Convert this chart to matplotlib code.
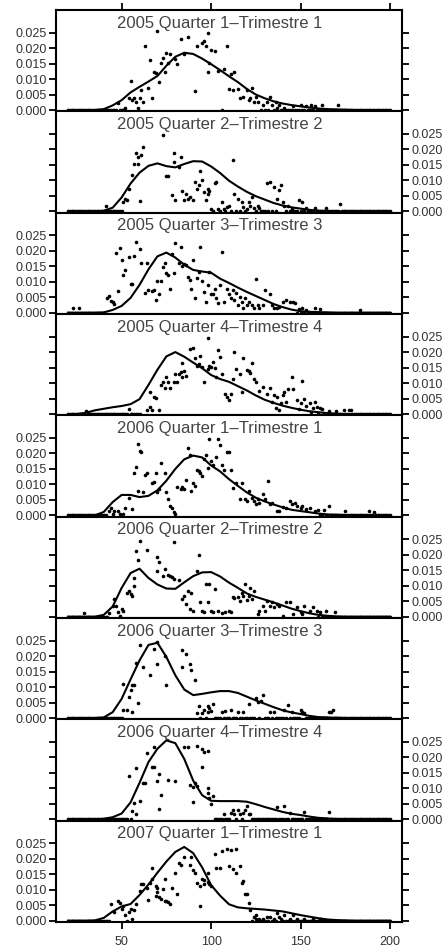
import numpy as np
import matplotlib.pyplot as plt
from matplotlib.ticker import FormatStrFormatter

plt.rcParams['font.family'] = ['Liberation Sans', 'DejaVu Sans']

titles = [
    "2005 Quarter 1\u2013Trimestre 1",
    "2005 Quarter 2\u2013Trimestre 2",
    "2005 Quarter 3\u2013Trimestre 3",
    "2005 Quarter 4\u2013Trimestre 4",
    "2006 Quarter 1\u2013Trimestre 1",
    "2006 Quarter 2\u2013Trimestre 2",
    "2006 Quarter 3\u2013Trimestre 3",
    "2006 Quarter 4\u2013Trimestre 4",
    "2007 Quarter 1\u2013Trimestre 1",
]

ages = np.arange(20, 201)          # one bin per unit
grid = np.arange(20, 201, 5)       # density curve evaluation points

# observed (non-empty) bins per quarter
age_05q1 = [48, 52, 54, 55, 56, 57, 58, 59, 60, 61, 62, 63, 65, 66, 67, 68, 69, 70, 71, 72, 73, 74, 75, 76, 77,
            80, 81, 83, 85, 87, 91, 92, 95, 96, 97, 98, 99, 100, 98, 102, 104, 107, 109, 110, 111, 112, 113,
            115, 116, 118, 120, 121, 122, 123, 124, 125, 126, 129, 131, 133, 134, 136, 137, 138, 141, 146,
            150, 153, 156, 158, 162, 171]
freq_05q1 = [.0024, .0008, .0038, .0093, .0033, .0038, .0027, .0008, .0038, .0064, .0027, .0208, .0071, .0162,
             .0038, .0124, .0119, .0256, .009, .0153, .0168, .0124, .0185, .0153, .018, .0166, .0148, .0229,
             .018, .0235, .0061, .0208, .0218, .0222, .0208, .025, .0153, .0195, .0122, .019, .0127, .0132,
             .0206, .0067, .0117, .0064, .0124, .0067, .0038, .0043, .0064, .0033, .0038, .0071, .0027, .0043,
             .0027, .0017, .0027, .0043, .0017, .0027, .0006, .0017, .0006, .0012, .0017, .0012, .0017, .0012,
             .0015, .0017]

age_05q2 = [41, 51, 52, 53, 54, 56, 57, 58, 59, 59, 60, 61, 62, 73, 75, 76, 78, 79, 79, 80, 82, 83, 84, 85, 86,
            87, 88, 90, 91, 92, 93, 94, 95, 96, 97, 98, 98, 99, 100, 102, 103, 104, 106, 107, 109, 110, 112,
            113, 115, 117, 118, 120, 121, 122, 123, 124, 126, 127, 131, 133, 135, 137, 138, 139, 140, 141,
            143, 145, 149, 151, 153, 158, 164, 172]
freq_05q2 = [.0019, .003, .0041, .0036, .0071, .0119, .0152, .0189, .0176, .0152, .0032, .0182, .0209, .0247,
             .0113, .0113, .0054, .019, .016, .0036, .0144, .0176, .0065, .0036, .0057, .0041, .0047, .0036,
             .0095, .0071, .0084, .013, .01, .0063, .0036, .0071, .0057, .0065, .0009, .009, .0095, .0009,
             .003, .0009, .0014, .0019, .0166, .0057, .0041, .003, .0014, .0009, .003, .0019, .0047, .0011,
             .0017, .0011, .009, .0095, .0079, .0041, .0068, .0084, .003, .0017, .0019, .0009, .0036, .003,
             .0011, .0011, .0011, .0025]

age_05q3 = [23, 26, 42, 43, 44, 45, 46, 47, 48, 49, 50, 51, 52, 54, 55, 56, 57, 58, 60, 61, 63, 64, 65, 67, 68,
            69, 70, 71, 72, 73, 74, 75, 76, 77, 78, 79, 80, 82, 83, 84, 85, 86, 87, 88, 89, 90, 91, 92, 93,
            94, 95, 96, 97, 98, 99, 100, 101, 102, 103, 104, 105, 106, 107, 109, 110, 111, 112, 113, 114,
            115, 116, 117, 118, 119, 120, 121, 123, 124, 125, 126, 127, 129, 130, 133, 134, 135, 137, 138,
            140, 142, 144, 146, 147, 149, 151, 153, 158, 161, 183]
freq_05q3 = [.0016, .0016, .0046, .0055, .0038, .0035, .0027, .0194, .007, .0209, .017, .0123, .0137, .018,
             .0094, .0094, .0183, .0229, .0207, .0159, .0065, .0159, .0073, .007, .0073, .0041, .0103, .0062,
             .0102, .0148, .0159, .0127, .0121, .0076, .0188, .0127, .0226, .0159, .0212, .015, .0157, .0153,
             .0116, .0105, .0078, .017, .0046, .0111, .0132, .0212, .0102, .0068, .0035, .0089, .0132, .0059,
             .0062, .0076, .0046, .003, .0091, .0196, .0035, .0078, .0062, .0046, .0073, .0041, .0065, .0025,
             .0051, .0035, .0014, .0046, .0025, .0035, .0025, .0016, .011, .0025, .0016, .0025, .0073, .0062,
             .0025, .0014, .0016, .0019, .0035, .0041, .0035, .0035, .003, .0012, .0014, .0009, .0014, .0012,
             .0009]

age_05q4 = [30, 54, 64, 66, 66, 67, 68, 69, 71, 72, 73, 74, 75, 76, 77, 79, 80, 81, 82, 83, 84, 84, 85, 86, 88,
            90, 91, 92, 93, 94, 95, 96, 98, 98, 99, 100, 101, 102, 103, 104, 105, 106, 108, 109, 110, 111,
            112, 113, 114, 116, 117, 118, 120, 121, 122, 123, 124, 125, 127, 129, 131, 133, 134, 135, 136,
            137, 138, 139, 140, 141, 142, 143, 145, 146, 148, 149, 150, 151, 152, 153, 155, 156, 157, 158,
            159, 161, 162, 166, 170, 174, 177, 178]
freq_05q4 = [.001, .0017, .0014, .0024, .0071, .0014, .0056, .0053, .0014, .0095, .0105, .0084, .0119, .0105,
             .0084, .0103, .0129, .0103, .0129, .0137, .0166, .0119, .014, .0122, .021, .0213, .0182, .0155,
             .0161, .0187, .0153, .0103, .0145, .0245, .0155, .0153, .0168, .015, .0119, .0206, .0185, .0129,
             .0066, .0056, .0045, .0066, .0113, .02, .0145, .0129, .0071, .0182, .0143, .014, .0134, .0164,
             .0113, .0103, .0074, .0087, .0066, .0084, .004, .0061, .0019, .0056, .0014, .0035, .0061, .0071,
             .0038, .0082, .0119, .008, .0045, .0017, .0035, .0108, .0048, .0026, .0035, .0008, .0021, .004,
             .0024, .0019, .0017, .001, .001, .0014, .0014, .0014]

age_06q1 = [43, 44, 45, 46, 48, 49, 51, 52, 54, 56, 57, 58, 59, 59, 60, 61, 62, 63, 64, 67, 68, 69, 70, 71, 72,
            74, 75, 76, 77, 78, 79, 80, 81, 83, 84, 85, 86, 87, 88, 89, 90, 91, 92, 93, 94, 95, 96, 97, 98,
            99, 100, 101, 103, 104, 105, 106, 107, 109, 110, 111, 112, 114, 116, 117, 119, 120, 121, 123,
            124, 125, 126, 127, 129, 130, 132, 133, 134, 137, 138, 140, 142, 144, 145, 147, 148, 150, 151,
            153, 155, 158, 160, 163, 166, 175, 188, 191]
freq_06q1 = [.0015, .0025, .0006, .0013, .0015, .0006, .0004, .0025, .0055, .002, .0137, .0155, .0078, .0229,
             .0208, .0206, .0076, .0131, .0137, .0105, .0108, .0137, .0076, .0084, .0168, .0137, .0076, .0052,
             .0031, .0023, .001, .0006, .0091, .0084, .0091, .0084, .0115, .0216, .0195, .0078, .0105, .0094,
             .0147, .0144, .0137, .0126, .0182, .0195, .0153, .0246, .0176, .0163, .019, .0248, .0227, .0163,
             .0147, .0206, .0206, .0147, .0089, .0105, .0052, .0105, .0052, .0047, .0078, .0057, .0047, .0036,
             .0052, .0041, .0068, .0052, .0112, .0038, .0041, .0013, .0013, .0028, .0023, .0047, .0036, .0041,
             .0031, .0023, .0031, .002, .0023, .0015, .0017, .0017, .0031, .0015, .0015, .001]

age_06q2 = [29, 43, 45, 46, 47, 48, 49, 50, 51, 53, 54, 55, 56, 57, 57, 58, 59, 60, 64, 70, 70, 71, 73, 74, 76,
            77, 78, 79, 79, 82, 84, 85, 86, 87, 88, 89, 90, 92, 93, 94, 95, 96, 97, 98, 99, 100, 101, 102,
            104, 106, 108, 110, 111, 112, 113, 115, 116, 117, 118, 119, 120, 121, 122, 123, 124, 126, 127,
            129, 130, 131, 133, 134, 135, 137, 138, 140, 142, 144, 146, 148, 150, 151, 152, 155, 157, 159,
            161, 164, 169]
freq_06q2 = [.0011, .0011, .0035, .0056, .0035, .0014, .0003, .0024, .0017, .0077, .0083, .0072, .0067, .0099,
             .0125, .0212, .0183, .0244, .0215, .0194, .0146, .0176, .013, .0155, .0136, .013, .0127, .0242,
             .0122, .0117, .0056, .0067, .004, .0083, .0024, .0077, .0019, .0146, .0199, .0046, .0017, .0014,
             .0104, .0046, .0106, .0019, .0014, .0091, .0019, .0011, .0014, .0019, .0014, .0064, .0061, .0064,
             .0051, .0077, .0067, .0104, .0053, .0067, .0093, .0056, .0083, .0008, .0019, .0035, .0019, .0051,
             .0035, .0046, .003, .004, .0035, .0003, .0046, .0046, .0008, .003, .0014, .0008, .0035, .0019,
             .003, .0019, .0014, .0019, .0014]

age_06q3 = [51, 51, 53, 54, 55, 56, 56, 57, 58, 59, 60, 62, 66, 68, 70, 70, 74, 75, 84, 84, 86, 88, 89, 91, 92,
            93, 95, 96, 98, 98, 99, 100, 101, 106, 108, 111, 115, 118, 121, 125, 126, 128, 129, 133, 135,
            141, 143, 145, 150, 151, 152, 166, 167, 168]
freq_06q3 = [.0109, .0027, .0027, .0069, .009, .0106, .0019, .0106, .0179, .0048, .0236, .0165, .0138, .0223,
             .0176, .0245, .02, .0106, .0165, .0218, .0207, .0176, .0154, .0122, .0016, .004, .0016, .0027,
             .0021, .004, .0032, .0023, .0045, .0019, .0023, .0027, .0019, .0019, .0045, .0064, .0053, .0055,
             .0074, .0021, .0021, .0027, .0043, .0021, .0027, .0021, .0016, .0019, .0021, .0027]

age_06q4 = [54, 56, 57, 58, 58, 60, 62, 63, 64, 67, 68, 68, 70, 71, 71, 72, 76, 80, 85, 87, 88, 90, 90, 91, 92,
            92, 95, 95, 96, 98, 98, 98, 99, 100, 101, 107, 111, 112, 113, 115, 116, 118, 119, 120, 121, 122,
            137, 141, 144, 152, 166]
freq_06q4 = [.0139, .0027, .0053, .0166, .0016, .0059, .0118, .0118, .0214, .0168, .0168, .0235, .0123, .0032,
             .0147, .008, .0128, .0125, .0235, .0232, .0112, .0057, .0104, .0118, .0107, .0238, .0168, .0227,
             .0219, .0102, .0086, .022, .007, .005, .0075, .0016, .0021, .0029, .0016, .0029, .0016, .0021,
             .0029, .0043, .0016, .0018, .004, .0043, .0021, .0025, .0025]

age_07q1 = [44, 46, 48, 49, 50, 51, 52, 54, 55, 56, 57, 58, 60, 61, 62, 64, 65, 66, 67, 67, 69, 69, 70, 70, 71,
            72, 73, 74, 74, 75, 76, 77, 78, 80, 81, 82, 83, 85, 88, 89, 90, 91, 92, 94, 94, 95, 96, 96, 98,
            98, 99, 100, 102, 103, 105, 106, 109, 110, 111, 112, 114, 114, 116, 117, 118, 119, 120, 121, 122,
            124, 125, 125, 127, 129, 131, 133, 135, 137, 138, 139, 141, 144, 146, 148, 152, 157, 161]
freq_07q1 = [.0055, .0028, .0065, .0057, .0039, .0049, .0018, .0028, .0039, .0004, .0036, .0055, .0097, .012,
             .0118, .0107, .0067, .0123, .0134, .0171, .0113, .0081, .0105, .0092, .0076, .0071, .0102, .0134,
             .0065, .0063, .006, .0055, .0107, .0155, .0086, .0186, .0181, .0204, .0181, .0207, .0165, .0155,
             .0123, .0049, .0113, .0134, .0118, .0131, .0155, .0126, .012, .0113, .0215, .0171, .0171, .0225,
             .0232, .0176, .0228, .0168, .0155, .0232, .0176, .0123, .0128, .0086, .0086, .0057, .0034, .0011,
             .0018, .0007, .0007, .0007, .0013, .0011, .0007, .0025, .0013, .0007, .0018, .0007, .0018, .0007,
             .0007, .0007, .0005]

# smoothed density at 20, 25, ..., 200
dens_05q1 = [0, 0, 0, 0, .0003, .0015, .0032, .0057, .0075, .0092, .011, .0143, .0172, .0185, .0181, .0166,
             .0148, .0129, .0109, .009, .0068, .005, .0038, .0028, .0021, .0016, .0012, .0008, .0005, .0003,
             .0002, .0001, 0, 0, 0, 0, 0]
dens_05q2 = [0, 0, 0, 0, .0002, .0012, .0045, .009, .0125, .0147, .0155, .0146, .0142, .0153, .0162, .0161,
             .0145, .0124, .0099, .008, .0063, .0049, .0038, .0027, .0019, .0013, .0009, .0005, .0002, .0001,
             0, 0, 0, 0, 0, 0, 0]
dens_05q3 = [0, 0, 0, 0, .0001, .0009, .0022, .0048, .009, .014, .0182, .0194, .0178, .0155, .0138, .0133,
             .0129, .011, .0096, .0081, .0067, .0054, .0041, .0028, .0018, .001, .0005, .0003, .0002, .0001,
             0, 0, 0, 0, 0, 0, 0]
dens_05q4 = [0, 0, .0004, .0012, .0017, .0022, .0026, .0032, .0048, .0094, .0143, .0186, .02, .0185, .0166,
             .0148, .0126, .0113, .0104, .009, .0076, .006, .0046, .0036, .0027, .002, .0014, .0009, .0006,
             .0003, .0001, 0, 0, 0, 0, 0, 0]
dens_06q1 = [0, 0, 0, 0, .0011, .0043, .0066, .0066, .0059, .0063, .0081, .0112, .015, .0181, .0193, .0187,
             .0161, .0142, .0117, .0095, .0074, .0057, .0045, .0035, .0026, .0018, .0014, .001, .0006, .0003,
             .0002, .0001, 0, 0, 0, 0, 0]
dens_06q2 = [0, 0, 0, 0, .0006, .0033, .0093, .0141, .0155, .0125, .0104, .0091, .009, .0111, .0131, .0143,
             .0144, .013, .011, .0093, .0075, .0064, .0055, .0046, .0036, .0026, .0018, .0011, .0006, .0003,
             .0001, 0, 0, 0, 0, 0, 0]
dens_06q3 = [0, 0, 0, 0, .0002, .0019, .0062, .0125, .0186, .0236, .0243, .0197, .0138, .0092, .0074, .0078,
             .0083, .0087, .0087, .0081, .0069, .0057, .0046, .0035, .0025, .0018, .0013, .0007, .0003, .0002,
             .0001, 0, 0, 0, 0, 0, 0]
dens_06q4 = [0, 0, 0, 0, .0002, .0007, .0019, .0055, .0118, .0185, .0228, .0255, .0246, .0195, .0125, .0078,
             .006, .0059, .0059, .0059, .0057, .0049, .004, .0032, .0024, .0018, .0014, .0009, .0005, .0003,
             .0001, 0, 0, 0, 0, 0, 0]
dens_07q1 = [0, 0, 0, .0001, .0009, .003, .0046, .0054, .0083, .0117, .0155, .0191, .0222, .0238, .0218, .0172,
             .0115, .0081, .0053, .0043, .004, .0038, .0036, .0033, .003, .0024, .0018, .0013, .0008, .0004,
             .0002, .0001, 0, 0, 0, 0, 0]

# extent of the empty-bin row at y = 0
zero_left = [52, 51, 40, 60, 41, 43, 50, 56, 44]
zero_right = [128, 100, 148, 155, 160, 160, 91, 100, 122]
zero_extra = [[106, 118], [], [], [], [], [], [], [], [53]]

panels = [
    (age_05q1, freq_05q1, dens_05q1),
    (age_05q2, freq_05q2, dens_05q2),
    (age_05q3, freq_05q3, dens_05q3),
    (age_05q4, freq_05q4, dens_05q4),
    (age_06q1, freq_06q1, dens_06q1),
    (age_06q2, freq_06q2, dens_06q2),
    (age_06q3, freq_06q3, dens_06q3),
    (age_06q4, freq_06q4, dens_06q4),
    (age_07q1, freq_07q1, dens_07q1),
]

fig, axes = plt.subplots(9, 1, figsize=(4.45, 9.49), dpi=100, sharex=True)
fig.subplots_adjust(left=0.1258, right=0.9034, top=0.9895, bottom=0.0285, hspace=0)

for i, ax in enumerate(axes):
    a, f, d = panels[i]
    a = np.asarray(a)
    f = np.asarray(f)
    empty = ((ages <= zero_left[i]) | (ages >= zero_right[i]) | np.isin(ages, zero_extra[i])) & ~np.isin(ages, a)

    ax.plot(ages[empty], np.zeros(empty.sum()), 'o', ms=2.6, mew=0, color='black', zorder=2)
    ax.plot(a, f, 'o', ms=2.6, mew=0, color='black', zorder=2)
    ax.plot(grid, d, color='black', lw=1.5, zorder=3)

    ax.text(0.474, 0.87, titles[i], transform=ax.transAxes, ha='center', va='center',
            fontsize=12, color='#444444', zorder=1)

    ax.set_xlim(13.3, 206.7)
    ax.set_ylim(-0.0004, 0.0323)
    ax.set_yticks([0, .005, .01, .015, .02, .025])
    ax.yaxis.set_major_formatter(FormatStrFormatter('%.3f'))
    ax.set_xticks([50, 100, 150, 200])

    left_labels = (i % 2 == 0)
    ax.tick_params(axis='y', left=True, right=True, direction='out', length=5, width=1.3,
                   labelleft=left_labels, labelright=not left_labels,
                   labelsize=9, labelcolor='#333333', pad=1.5)
    ax.tick_params(axis='x', top=(i == 0), bottom=(i == 8), direction='out', length=5, width=1.3,
                   labeltop=False, labelbottom=(i == 8), labelsize=9, labelcolor='#333333', pad=5)
    for sp in ax.spines.values():
        sp.set_linewidth(1.5)
        sp.set_color('black')

fig.savefig('out.png', dpi=100)
